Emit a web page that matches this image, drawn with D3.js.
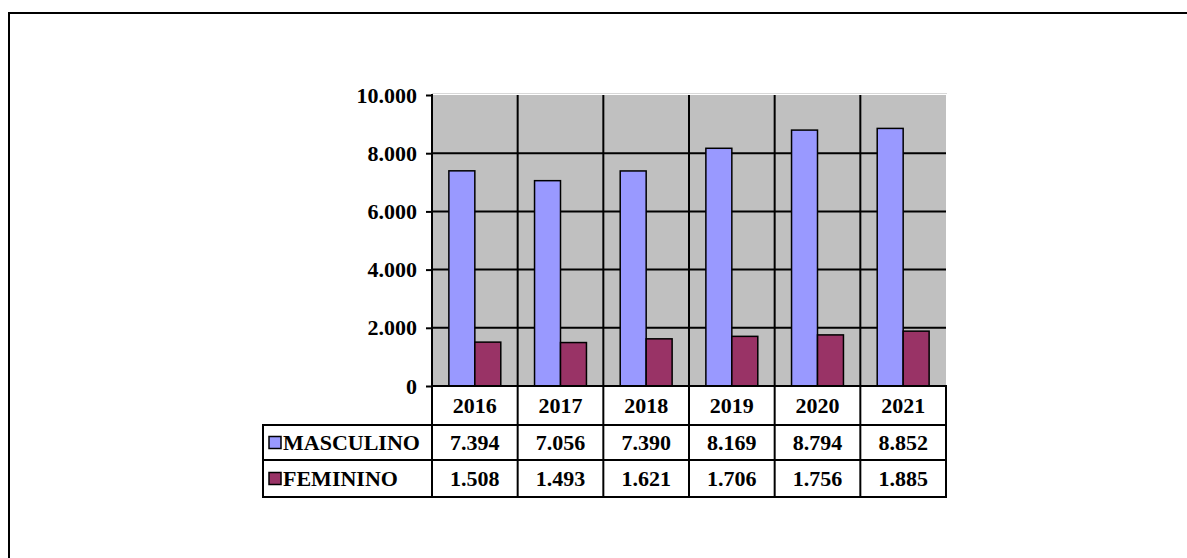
<!DOCTYPE html>
<html>
<head>
<meta charset="utf-8">
<script src="https://cdn.jsdelivr.net/npm/d3@7"></script>
<style>
  body { margin: 0; background: #fff; }
  svg text { font-family: "Liberation Serif", "Times New Roman", serif; font-weight: bold; }
</style>
</head>
<body>
<svg id="chart" width="1187" height="558"></svg>
<script>
const years = ["2016", "2017", "2018", "2019", "2020", "2021"];
const seriesNames = ["MASCULINO", "FEMININO"];
const masculino = [7394, 7056, 7390, 8169, 8794, 8852];
const feminino = [1508, 1493, 1621, 1706, 1756, 1885];
const yTicks = [0, 2000, 4000, 6000, 8000, 10000];
const colors = ["#9999ff", "#993366"];

const svg = d3.select("#chart");
const fmt = d => d3.format(",")(d).replace(/,/g, ".");
const fontSize = "22px";

// outer frame (only top and left visible)
svg.append("path")
    .attr("d", "M9,560 V13 H1190")
    .attr("fill", "none")
    .attr("stroke", "#000")
    .attr("stroke-width", 2);

const pLeft = 432, pRight = 946, pTop = 95, pBottom = 386;

const x = d3.scaleBand().domain(years).range([pLeft, pRight]);
const x1 = d3.scaleBand().domain(seriesNames).range([0, x.bandwidth()]).paddingOuter(0.65);
const y = d3.scaleLinear().domain([0, 10000]).range([pBottom, pTop]);

// plot background
svg.append("rect")
    .attr("x", pLeft).attr("y", pTop)
    .attr("width", pRight - pLeft).attr("height", pBottom - pTop)
    .attr("fill", "#c0c0c0");
svg.append("line")
    .attr("x1", pLeft).attr("x2", pRight + 1)
    .attr("y1", pTop - 1.5).attr("y2", pTop - 1.5)
    .attr("stroke", "#d8d8d8").attr("stroke-width", 1);

// horizontal grid
svg.append("g")
    .selectAll("line")
    .data(yTicks.filter(t => t > 0 && t < 10000))
    .enter()
    .append("line")
    .attr("x1", pLeft).attr("x2", pRight)
    .attr("y1", d => y(d)).attr("y2", d => y(d))
    .attr("stroke", "#000").attr("stroke-width", 2);

// vertical grid between categories
svg.append("g")
    .selectAll("line")
    .data(years.slice(1))
    .enter()
    .append("line")
    .attr("x1", d => x(d)).attr("x2", d => x(d))
    .attr("y1", pTop).attr("y2", pBottom)
    .attr("stroke", "#000").attr("stroke-width", 2);

// bars
const data = years.map((yr, i) => ({ year: yr, vals: [masculino[i], feminino[i]] }));
const groups = svg.append("g")
    .selectAll("g")
    .data(data)
    .enter()
    .append("g")
    .attr("transform", d => `translate(${x(d.year)},0)`);

groups.selectAll("rect")
    .data(d => d.vals.map((v, j) => ({ name: seriesNames[j], v: v, j: j })))
    .enter()
    .append("rect")
    .attr("x", d => x1(d.name))
    .attr("y", d => y(d.v))
    .attr("width", x1.bandwidth())
    .attr("height", d => y(0) - y(d.v))
    .attr("fill", d => colors[d.j])
    .attr("stroke", "#000")
    .attr("stroke-width", 1.5);

// y axis
const yAxis = d3.axisLeft(y)
    .tickValues(yTicks)
    .tickSize(6)
    .tickPadding(9)
    .tickFormat(fmt);
const ga = svg.append("g")
    .attr("transform", `translate(${pLeft},0)`)
    .call(yAxis);
ga.select(".domain").remove();
ga.selectAll(".tick line").attr("stroke", "#000").attr("stroke-width", 2);
ga.selectAll(".tick text")
    .attr("fill", "#000")
    .style("font-size", fontSize)
    .style("font-family", "'Liberation Serif', serif")
    .style("font-weight", "bold");
svg.append("line")
    .attr("x1", pLeft).attr("x2", pLeft)
    .attr("y1", pTop - 1).attr("y2", pBottom)
    .attr("stroke", "#000").attr("stroke-width", 2);

// data table
const tableLeft = 263;
const rowY = [386, 425, 460, 497];
const tbl = svg.append("g");

tbl.selectAll("text.year")
    .data(years)
    .enter()
    .append("text")
    .attr("class", "year")
    .attr("x", d => x(d) + x.bandwidth() / 2)
    .attr("y", (rowY[0] + rowY[1]) / 2 + 7)
    .attr("text-anchor", "middle")
    .style("font-size", fontSize)
    .text(d => d);

const rows = [masculino, feminino];
rows.forEach((vals, r) => {
    const cy = (rowY[r + 1] + rowY[r + 2]) / 2 + 7;
    tbl.append("g")
        .selectAll("text")
        .data(vals)
        .enter()
        .append("text")
        .attr("x", (d, i) => x(years[i]) + x.bandwidth() / 2)
        .attr("y", cy)
        .attr("text-anchor", "middle")
        .style("font-size", fontSize)
        .text(d => fmt(d));

    tbl.append("rect")
        .attr("x", tableLeft + 6)
        .attr("y", (rowY[r + 1] + rowY[r + 2]) / 2 - 6)
        .attr("width", 12).attr("height", 12)
        .attr("fill", colors[r])
        .attr("stroke", "#000").attr("stroke-width", 1.5);

    tbl.append("text")
        .attr("x", tableLeft + 20)
        .attr("y", cy)
        .style("font-size", fontSize)
        .text(seriesNames[r]);
});

// table lines
const lineStyle = sel => sel.attr("stroke", "#000").attr("stroke-width", 2);
tbl.append("line").attr("x1", pLeft).attr("x2", pRight).attr("y1", rowY[0]).attr("y2", rowY[0]).call(lineStyle);
[1, 2, 3].forEach(k => {
    tbl.append("line").attr("x1", tableLeft).attr("x2", pRight)
        .attr("y1", rowY[k]).attr("y2", rowY[k]).call(lineStyle);
});
tbl.append("line").attr("x1", tableLeft).attr("x2", tableLeft)
    .attr("y1", rowY[1] - 1).attr("y2", rowY[3] + 1).call(lineStyle);
tbl.selectAll("line.col")
    .data(years.concat(["end"]))
    .enter()
    .append("line")
    .attr("class", "col")
    .attr("x1", d => d === "end" ? pRight : x(d))
    .attr("x2", d => d === "end" ? pRight : x(d))
    .attr("y1", rowY[0] - 1).attr("y2", rowY[3] + 1)
    .call(lineStyle);
</script>
</body>
</html>
